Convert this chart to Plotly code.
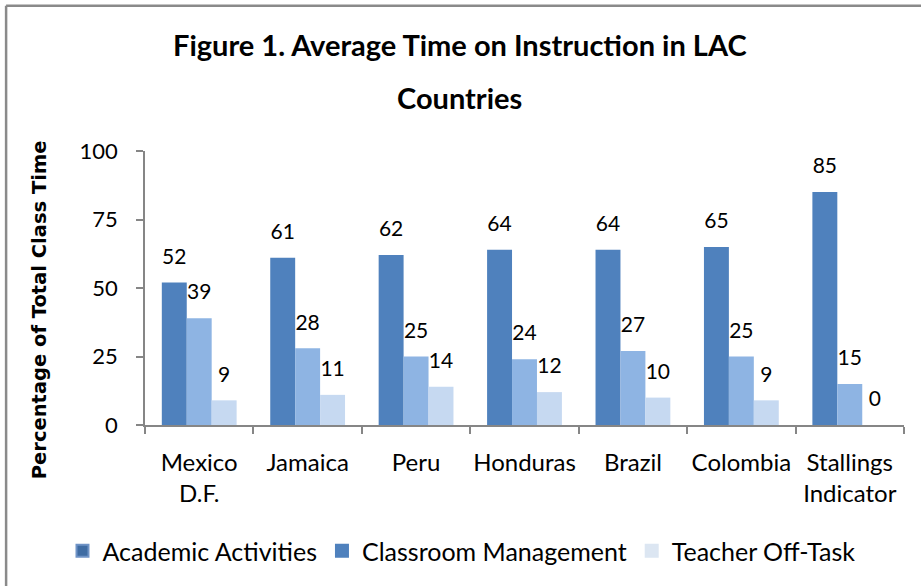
import plotly.graph_objects as go

categories = ["Mexico<br>D.F.", "Jamaica", "Peru", "Honduras", "Brazil", "Colombia", "Stallings<br>Indicator"]
academic = [52, 61, 62, 64, 64, 65, 85]
management = [39, 28, 25, 24, 27, 25, 15]
off_task = [9, 11, 14, 12, 10, 9, 0]
series_names = ["Academic Activities", "Classroom Management", "Teacher Off-Task"]
y_ticks = [0, 25, 50, 75, 100]

bar_colors = ["#4F81BD", "#8EB4E3", "#C6D9F1"]
legend_colors = ["#3F6CA3", "#4F81BD", "#DCE6F2"]
FONT = "Lato"

fig = go.Figure()
for i, (vals, col) in enumerate(zip([academic, management, off_task], bar_colors)):
    fig.add_trace(go.Bar(
        x=categories, y=vals, marker=dict(color=col, line=dict(width=0)),
        offsetgroup=str(i), showlegend=False, hoverinfo="skip",
    ))
for i, vals in enumerate([academic, management, off_task]):
    fig.add_trace(go.Scatter(
        x=categories, y=vals, mode="markers+text", text=vals,
        textposition="top center", offsetgroup=str(i),
        marker=dict(size=20, opacity=0), cliponaxis=False, hoverinfo="skip",
        textfont=dict(family=FONT, size=21, color="black"), showlegend=False,
    ))
for name, col in zip(series_names, legend_colors):
    fig.add_trace(go.Scatter(
        x=[None], y=[None], mode="markers", name=name,
        marker=dict(symbol="square", size=15, color=col,
                    line=dict(width=1, color="#6F93C6" if col == "#3F6CA3" else col)),
    ))

fig.update_layout(
    width=921, height=586,
    margin=dict(l=145, r=17, t=151, b=161, autoexpand=False),
    paper_bgcolor="white", plot_bgcolor="white",
    barmode="group", bargap=0.31, bargroupgap=0,
    scattermode="group", scattergap=0.31,
    font=dict(family=FONT, color="black"),
    showlegend=True,
    legend=dict(orientation="h", xref="paper", x=-0.1087, xanchor="left",
                yref="paper", y=-0.46, yanchor="middle",
                font=dict(family=FONT, size=25), itemsizing="constant",
                bgcolor="rgba(0,0,0,0)"),
    xaxis=dict(showline=True, linecolor="#868686", linewidth=1.5, ticks="outside",
               tickson="boundaries", ticklen=7, tickcolor="#868686", tickwidth=1.5,
               tickangle=0, automargin=False, ticklabelstandoff=15,
               tickfont=dict(family=FONT, size=24), showgrid=False),
    yaxis=dict(range=[0, 100], tickvals=y_ticks, showline=True, linecolor="#868686",
               linewidth=1.5, ticks="outside", ticklen=7, tickcolor="#868686",
               tickwidth=1.5, tickfont=dict(family=FONT, size=22), showgrid=False,
               zeroline=False, automargin=False, ticklabelstandoff=14),
)
fig.add_annotation(text="<b>Percentage of Total Class Time</b>", textangle=-90,
                   xref="paper", yref="paper", x=-0.138, y=0.42, xanchor="center",
                   yanchor="middle", showarrow=False,
                   font=dict(family="DejaVu Sans", size=19.5, color="black"))
fig.add_annotation(text="<b>Figure 1. Average Time on Instruction in LAC</b>",
                   xref="paper", yref="paper", x=0.415, y=1.387, xanchor="center",
                   yanchor="middle", showarrow=False, font=dict(family=FONT, size=29))
fig.add_annotation(text="<b>Countries</b>",
                   xref="paper", yref="paper", x=0.415, y=1.197, xanchor="center",
                   yanchor="middle", showarrow=False, font=dict(family=FONT, size=29))
border = dict(color="#8A8A8A", width=2.5)
fig.add_shape(type="line", xref="paper", yref="paper", x0=-0.183, y0=1.53, x1=1.2, y1=1.53,
              line=border, layer="below")
fig.add_shape(type="line", xref="paper", yref="paper", x0=-0.183, y0=1.53, x1=-0.183, y1=-0.9,
              line=border, layer="below")
fig.write_html("out.html", config={"displayModeBar": False},
               post_script="document.body.style.margin='0px';"
                           "document.body.style.overflow='hidden';"
                           "document.documentElement.style.overflow='hidden';")
